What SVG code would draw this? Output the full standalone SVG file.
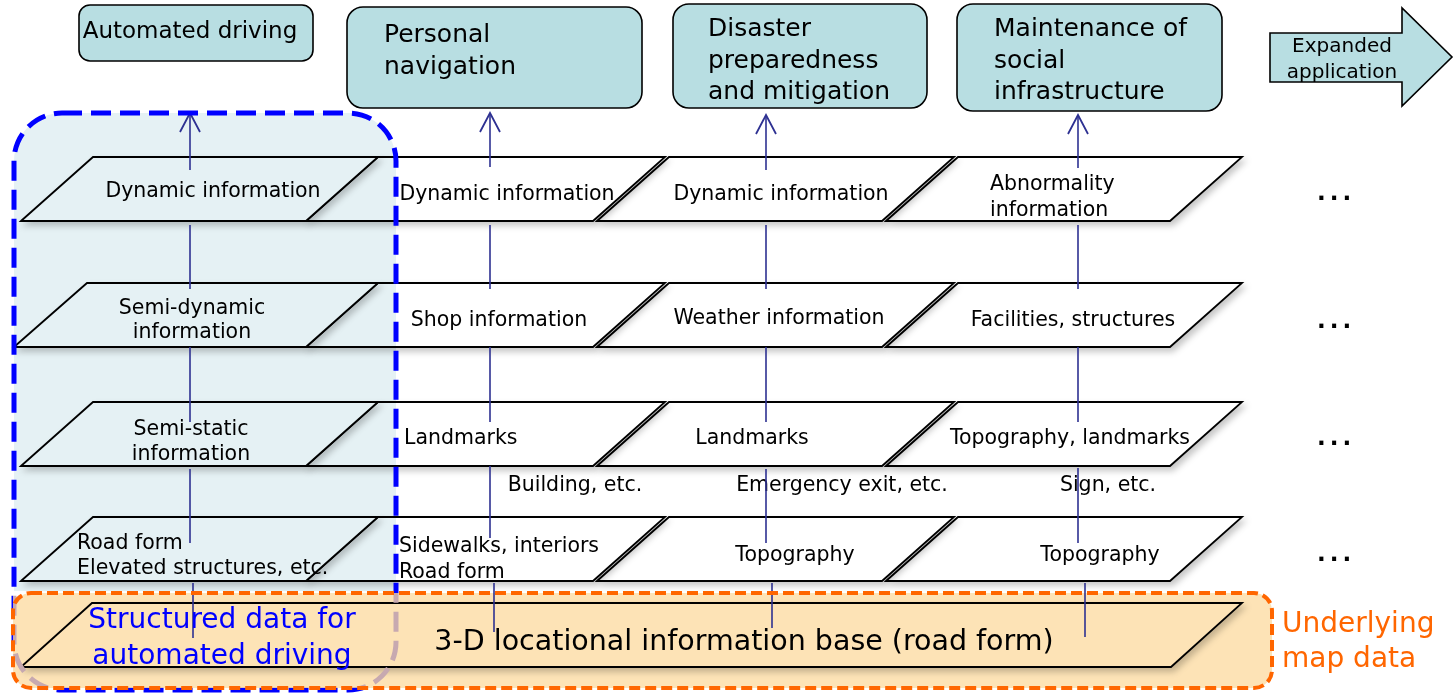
<svg xmlns="http://www.w3.org/2000/svg" width="1455" height="694" viewBox="0 0 1455 694">
<style>
text{font-family:"DejaVu Sans",Verdana,sans-serif;fill:#000}
.box{fill:#b8dee2;stroke:#000;stroke-width:1.6}
.title{font-size:25px}
.pg{fill:#fff;stroke:#000;stroke-width:1.8;filter:url(#sh)}
.lbl{font-size:20.5px}
.c{text-anchor:middle}
.con{stroke:#2e3192;stroke-width:1.6;fill:none}
.dots{font-size:23px;font-weight:bold;letter-spacing:4px}
</style>
<defs>
<filter id="sh" x="-5%" y="-20%" width="115%" height="160%">
<feDropShadow dx="3" dy="4" stdDeviation="3" flood-color="#000" flood-opacity="0.22"/>
</filter>
<marker id="arr" markerUnits="userSpaceOnUse" viewBox="0 0 24 24" markerWidth="24" markerHeight="24" refX="20" refY="12" orient="auto">
<path d="M1,2 L20,12 L1,22" fill="none" stroke="#2e3192" stroke-width="1.8"/>
</marker>
<clipPath id="outOrange"><path clip-rule="evenodd" d="M0,0H1455V694H0Z M13,593H1272V688H13Z"/></clipPath>
<clipPath id="inOrange"><rect x="13" y="593" width="1259" height="95"/></clipPath>
<clipPath id="aboveOrange"><rect x="0" y="0" width="1455" height="591"/></clipPath>
</defs>

<!-- top application boxes -->
<g id="app-automated-driving">
<rect class="box" x="79" y="5" width="234" height="56" rx="11"/>
<text x="190" y="38" class="c" font-size="23">Automated driving</text>
</g>
<g id="app-personal-navigation">
<rect class="box" x="347" y="7" width="295" height="101" rx="16"/>
<text class="title" x="384" y="42">Personal</text>
<text class="title" x="384" y="74">navigation</text>
</g>
<g id="app-disaster">
<rect class="box" x="673" y="4" width="254" height="104" rx="16"/>
<text class="title" x="708" y="36">Disaster</text>
<text class="title" x="708" y="68">preparedness</text>
<text class="title" x="708" y="99">and mitigation</text>
</g>
<g id="app-maintenance">
<rect class="box" x="957" y="4" width="265" height="107" rx="16"/>
<text class="title" x="994" y="36">Maintenance of</text>
<text class="title" x="994" y="68">social</text>
<text class="title" x="994" y="99">infrastructure</text>
</g>
<g id="expanded-application">
<polygon class="box" points="1270,33 1402,33 1402,8 1452,57 1402,106 1402,82 1270,82"/>
<text x="1342" y="52" class="c" font-size="20">Expanded</text>
<text x="1342" y="78" class="c" font-size="20">application</text>
</g>

<!-- Row 1 -->
<g id="r1-D"><polygon class="pg" points="886,221 958,157 1242,157 1170,221"/>
<text class="lbl" x="990" y="190">Abnormality</text><text class="lbl" x="990" y="216">information</text></g>
<g id="r1-C"><polygon class="pg" points="597,221 669,157 954,157 882,221"/>
<text class="lbl c" x="781" y="200">Dynamic information</text></g>
<g id="r1-B"><polygon class="pg" points="306,221 378,157 665,157 593,221"/>
<text class="lbl c" x="507" y="200">Dynamic information</text></g>
<g id="r1-A"><polygon class="pg" points="21,221 93,157 378,157 306,221"/>
<text class="lbl c" x="213" y="197">Dynamic information</text></g>
<text class="dots" x="1317" y="200">...</text>

<!-- Row 2 -->
<g id="r2-D"><polygon class="pg" points="886,347 958,283 1242,283 1170,347"/>
<text class="lbl c" x="1073" y="326">Facilities, structures</text></g>
<g id="r2-C"><polygon class="pg" points="597,347 669,283 954,283 882,347"/>
<text class="lbl c" x="779" y="324">Weather information</text></g>
<g id="r2-B"><polygon class="pg" points="306,347 378,283 665,283 593,347"/>
<text class="lbl c" x="499" y="326">Shop information</text></g>
<g id="r2-A"><polygon class="pg" points="14,347 87,283 378,283 306,347"/>
<text class="lbl c" x="192" y="314">Semi-dynamic</text><text class="lbl c" x="192" y="338">information</text></g>
<text class="dots" x="1317" y="328">...</text>

<!-- Row 3 -->
<g id="r3-D"><polygon class="pg" points="886,466 958,402 1242,402 1170,466"/>
<text class="lbl c" x="1070" y="444">Topography, landmarks</text></g>
<g id="r3-C"><polygon class="pg" points="597,466 669,402 954,402 882,466"/>
<text class="lbl c" x="752" y="444">Landmarks</text></g>
<g id="r3-B"><polygon class="pg" points="306,466 378,402 665,402 593,466"/>
<text class="lbl" x="404" y="444">Landmarks</text></g>
<g id="r3-A"><polygon class="pg" points="21,466 93,402 378,402 306,466"/>
<text class="lbl c" x="191" y="435">Semi-static</text><text class="lbl c" x="191" y="460">information</text></g>
<text class="dots" x="1317" y="445">...</text>

<text class="lbl c" x="575" y="491">Building, etc.</text>
<text class="lbl c" x="842" y="491">Emergency exit, etc.</text>
<text class="lbl c" x="1108" y="491">Sign, etc.</text>

<!-- Row 4 -->
<g id="r4-D"><polygon class="pg" points="886,581 958,517 1242,517 1170,581"/>
<text class="lbl c" x="1100" y="561">Topography</text></g>
<g id="r4-C"><polygon class="pg" points="597,581 669,517 954,517 882,581"/>
<text class="lbl c" x="795" y="561">Topography</text></g>
<g id="r4-B"><polygon class="pg" points="306,581 378,517 665,517 593,581"/>
<text class="lbl" x="399" y="552">Sidewalks, interiors</text><text class="lbl" x="399" y="578">Road form</text></g>
<g id="r4-A"><polygon class="pg" points="21,581 93,517 378,517 306,581"/>
<text class="lbl" x="77" y="549">Road form</text><text class="lbl" x="77" y="574">Elevated structures, etc.</text></g>
<text class="dots" x="1317" y="561">...</text>

<!-- blue region tint -->
<rect x="14" y="113" width="382" height="577" rx="48" fill="#e5f1f4" clip-path="url(#aboveOrange)" style="mix-blend-mode:multiply"/>

<!-- orange region fill -->
<rect x="13" y="593" width="1259" height="95" rx="18" fill="#fde3b6"/>

<g id="base">
<polygon class="pg" style="fill:#fde3b6" points="21,667 92,603 1242,603 1171,667"/>
<text x="744" y="650" class="c" font-size="28.5">3-D locational information base (road form)</text>
</g>

<g id="connectors" class="con">
<line x1="190" y1="170" x2="190" y2="113" marker-end="url(#arr)"/>
<line x1="490" y1="167" x2="490" y2="113" marker-end="url(#arr)"/>
<line x1="766" y1="170" x2="766" y2="115" marker-end="url(#arr)"/>
<line x1="1078" y1="168" x2="1078" y2="115" marker-end="url(#arr)"/>
<path d="M190,225V289M190,347V422M190,469V543M193,583V638"/>
<path d="M490,225V289M490,347V422M490,466V538M494,583V632"/>
<path d="M766,225V289M766,347V422M766,469V543M772,583V628"/>
<path d="M1078,225V289M1078,347V422M1078,468V543M1085,583V637"/>
</g>

<g id="automated-driving-region">
<rect x="14" y="113" width="382" height="577" rx="48" fill="none" stroke="#0000ff" stroke-width="5" stroke-dasharray="20 9" clip-path="url(#outOrange)"/>
<rect x="14" y="113" width="382" height="577" rx="48" fill="none" stroke="#c7a9b0" stroke-width="5" stroke-dasharray="20 9" clip-path="url(#inOrange)"/>
<text x="222" y="628" class="c" font-size="28" style="fill:#0000ff">Structured data for</text>
<text x="222" y="664" class="c" font-size="28" style="fill:#0000ff">automated driving</text>
</g>

<g id="underlying-map-region">
<rect x="13" y="593" width="1259" height="95" rx="18" fill="none" stroke="#ff6600" stroke-width="4" stroke-dasharray="11 5"/>
<text x="1282" y="632" font-size="28" style="fill:#ff6600">Underlying</text>
<text x="1282" y="667" font-size="28" style="fill:#ff6600">map data</text>
</g>
</svg>
